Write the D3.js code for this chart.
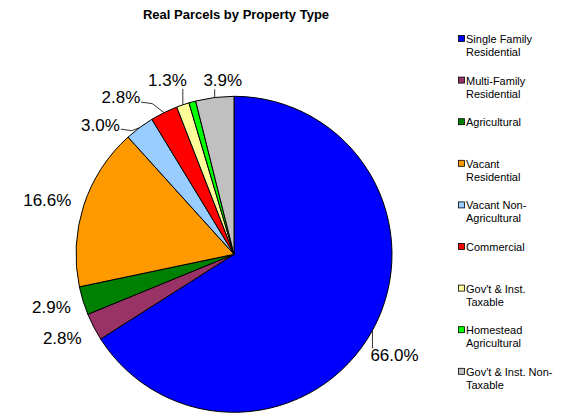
<!DOCTYPE html>
<html>
<head>
<meta charset="utf-8">
<script src="https://cdn.jsdelivr.net/npm/d3@7"></script>
<style>
  html, body { margin: 0; padding: 0; background: #fff; }
  svg { display: block; font-family: Arial, "Liberation Sans", sans-serif; }
</style>
</head>
<body>
<svg id="chart" width="569" height="419"></svg>
<script>
// ---- data ----
const categories = [
  "Single Family Residential",
  "Multi-Family Residential",
  "Agricultural",
  "Vacant Residential",
  "Vacant Non-Agricultural",
  "Commercial",
  "Gov't & Inst. Taxable",
  "Homestead Agricultural",
  "Gov't & Inst. Non-Taxable"
];
const legendLines = [
  ["Single Family", "Residential"],
  ["Multi-Family", "Residential"],
  ["Agricultural"],
  ["Vacant", "Residential"],
  ["Vacant Non-", "Agricultural"],
  ["Commercial"],
  ["Gov't & Inst.", "Taxable"],
  ["Homestead", "Agricultural"],
  ["Gov't & Inst. Non-", "Taxable"]
];
const values = [66.0, 2.8, 2.9, 16.6, 3.0, 2.8, 1.3, 0.7, 3.9];
const showLabel = [true, true, true, true, true, true, true, false, true];
const colors = ["#0000FF", "#993366", "#008000", "#FF9900", "#99CCFF", "#FF0000", "#FFFF99", "#00FF00", "#C0C0C0"];

// ---- layout (styling, not data) ----
const labelNudge = [[-6, 10], [-3, -3], [-1, -3], [-6, 5], [-20, 23], [-29, 14], [-5, 6], [0, 0], [12, 15]];
const hasLeader = [true, false, false, false, true, true, true, false, true];

const svg = d3.select("#chart");
const cx = 234, cy = 254.3, r = 158;

svg.append("text")
  .attr("x", 236).attr("y", 19)
  .attr("text-anchor", "middle")
  .attr("font-size", 13).attr("font-weight", "bold")
  .text("Real Parcels by Property Type");

const pie = d3.pie().sort(null).value(d => d)(values);
const arc = d3.arc().innerRadius(0).outerRadius(r);

const g = svg.append("g").attr("transform", `translate(${cx},${cy})`);
g.selectAll("path.slice").data(pie).join("path")
  .attr("class", "slice")
  .attr("d", arc)
  .attr("fill", (d, i) => colors[i])
  .attr("stroke", "#000").attr("stroke-width", 1)
  .attr("stroke-linejoin", "round");

const fmt = d3.format(".1f");
const labelR = r + 32;
pie.forEach((d, i) => {
  if (!showLabel[i]) return;
  const a = (d.startAngle + d.endAngle) / 2;
  const lx = Math.sin(a) * labelR + labelNudge[i][0];
  const ly = -Math.cos(a) * labelR + labelNudge[i][1];
  const t = g.append("text")
    .attr("x", lx).attr("y", ly)
    .attr("text-anchor", "middle")
    .attr("dominant-baseline", "central")
    .attr("font-size", 17)
    .attr("fill", "#000")
    .text(fmt(values[i]) + "%");
  if (!hasLeader[i]) return;
  const bb = t.node().getBBox();
  const px = Math.sin(a) * r, py = -Math.cos(a) * r;
  let pts;
  if (px >= bb.x && px <= bb.x + bb.width) {
    const ey = py > bb.y + bb.height ? bb.y + bb.height - 1 : bb.y + 2;
    pts = [[px, py], [px, ey]];
  } else {
    const ex = px > bb.x + bb.width ? bb.x + bb.width + 1 : bb.x - 1;
    const ey = bb.y + bb.height * 0.72;
    pts = [[px, py], [ex + 11, ey + 1.5], [ex, ey]];
  }
  g.append("path")
    .attr("d", d3.line()(pts))
    .attr("fill", "none").attr("stroke", "#000").attr("stroke-width", 0.8);
});

// legend
const lg = svg.append("g");
const legTop = 39, legStep = 41.6;
categories.forEach((c, i) => {
  const y = legTop + i * legStep;
  lg.append("rect")
    .attr("x", 458.5).attr("y", y - 3.5).attr("width", 6).attr("height", 6)
    .attr("fill", colors[i]).attr("stroke", "#000").attr("stroke-width", 0.8);
  const t = lg.append("text").attr("font-size", 11).attr("fill", "#000");
  legendLines[i].forEach((line, j) => {
    t.append("tspan").attr("x", 466).attr("y", y + 4 + j * 13).text(line);
  });
});
</script>
</body>
</html>
